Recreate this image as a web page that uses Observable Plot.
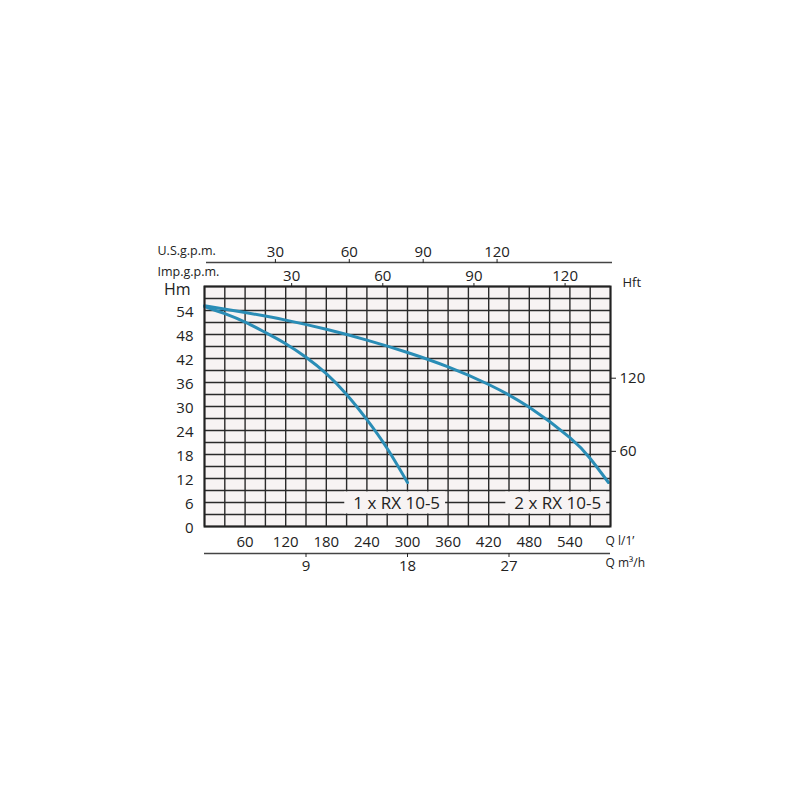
<!DOCTYPE html>
<html>
<head>
<meta charset="utf-8">
<script src="https://cdn.jsdelivr.net/npm/d3@7"></script>
<script src="https://cdn.jsdelivr.net/npm/@observablehq/plot@0.6"></script>
<style>
  html, body { margin: 0; padding: 0; background: #ffffff; }
  #chart { width: 800px; height: 800px; }
</style>
</head>
<body>
<div id="chart"></div>
<script>
// ---- data ----
const curve1Q = [0, 30, 60, 90, 120, 150, 180, 210, 240, 270, 300];
const curve1H = [55.0, 53.2, 51.1, 48.5, 45.7, 42.3, 38.2, 33.0, 26.7, 19.5, 11.0];
const curve2Q = [0, 60, 120, 180, 240, 300, 360, 420, 480, 540, 570, 597];
const curve2H = [55.2, 53.5, 51.6, 49.3, 46.6, 43.5, 39.9, 35.5, 29.8, 22.2, 17.0, 11.0];
const curveNames = ["1 x RX 10-5", "2 x RX 10-5"];
const labelQ = [284, 522];
const labelH = [6, 6];

const hmTicks = [0, 6, 12, 18, 24, 30, 36, 42, 48, 54];
const lminTicks = [60, 120, 180, 240, 300, 360, 420, 480, 540];
const m3hTicks = [9, 18, 27];
const usgpmTicks = [30, 60, 90, 120];
const impgpmTicks = [30, 60, 90, 120];
const hftTicks = [60, 120];

// unit conversions (as drawn on the chart)
const lminPerM3h = 1000 / 60;
const lminPerUsgpm = 3.64;
const lminPerImpgpm = 4.49;
const ftPerM = 3.281;

const qGrid = d3.range(0, 601, 30);
const hGrid = d3.range(0, 61, 3);

const curve1 = curve1Q.map((q, i) => ({q, h: curve1H[i]}));
const curve2 = curve2Q.map((q, i) => ({q, h: curve2H[i]}));
const labels = curveNames.map((name, i) => ({name, q: labelQ[i], h: labelH[i]}));

const FONT = "Open Sans";
const INK = "#222222";
const GRID = "#2a2a2a";
const BG = "#f7f3f3";
const LINE = "#2a8db6";

const plot = Plot.plot({
  width: 800,
  height: 800,
  marginLeft: 204,
  marginRight: 190,
  marginTop: 286,
  marginBottom: 274,
  style: {fontFamily: FONT, fontSize: "15px", color: INK, background: "#ffffff", overflow: "visible"},
  x: {domain: [0, 600]},
  y: {domain: [0, 60]},
  marks: [
    Plot.frame({fill: BG, stroke: null}),
    Plot.ruleX(qGrid, {stroke: GRID, strokeWidth: 1.4}),
    Plot.ruleY(hGrid, {stroke: GRID, strokeWidth: 1.4}),
    Plot.line(curve1, {x: "q", y: "h", stroke: LINE, strokeWidth: 3, curve: "natural"}),
    Plot.line(curve2, {x: "q", y: "h", stroke: LINE, strokeWidth: 3, curve: "natural"}),
    Plot.text(labels, {x: "q", y: "h", text: "name", fontSize: 17, fill: INK, dy: 1, className: "curve-label"}),
    Plot.frame({stroke: INK, strokeWidth: 2}),
    // left Hm axis
    Plot.axisY(hmTicks, {anchor: "left", tickSize: 0, tickPadding: 11, dy: 2, fontSize: 15, label: null}),
    // right Hft axis
    Plot.axisY(hftTicks.map(f => f / ftPerM), {anchor: "right", dy: -2, tickSize: 5, tickPadding: 4, fontSize: 15, label: null,
      tickFormat: (d, i) => hftTicks[i]}),
    // bottom l/min axis
    Plot.axisX(lminTicks, {anchor: "bottom", tickSize: 0, tickPadding: 10, fontSize: 15, label: null}),
    // m3/h axis below
    Plot.ruleY([0], {x1: 0, x2: 600, dy: 27, stroke: "#444", strokeWidth: 1.3}),
    Plot.axisX(m3hTicks.map(v => v * lminPerM3h), {anchor: "bottom", dy: 27, tickSize: 4, tickPadding: 3, fontSize: 15, label: null,
      tickFormat: (d, i) => m3hTicks[i]}),
    // Imp gpm axis on top border
    Plot.axisX(impgpmTicks.map(v => v * lminPerImpgpm), {anchor: "top", dx: -4, tickSize: 4, tickPadding: 2, fontSize: 15, label: null,
      tickFormat: (d, i) => impgpmTicks[i]}),
    // US gpm axis above
    Plot.ruleY([60], {x1: 0, x2: 600, dy: -24, dx: 2, stroke: "#444", strokeWidth: 1.3}),
    Plot.axisX(usgpmTicks.map(v => v * lminPerUsgpm), {anchor: "top", dx: -3, dy: -24, tickSize: 4, tickPadding: 2, fontSize: 15, label: null,
      tickFormat: (d, i) => usgpmTicks[i]}),
    // unit labels
    Plot.text(["Hm"], {frameAnchor: "top-left", lineAnchor: "middle", textAnchor: "end", dx: -14, dy: 3, fontSize: 16, fill: INK}),
    Plot.text(["Hft"], {frameAnchor: "top-right", lineAnchor: "middle", textAnchor: "start", dx: 12, dy: -4, fontSize: 13, fill: INK}),
    Plot.text(["U.S.g.p.m."], {frameAnchor: "top-left", lineAnchor: "middle", textAnchor: "start", dx: -47, dy: -36, fontSize: 12.5, fill: INK}),
    Plot.text(["Imp.g.p.m."], {frameAnchor: "top-left", lineAnchor: "middle", textAnchor: "start", dx: -47, dy: -15, fontSize: 12.5, fill: INK}),
    Plot.text(["Q l/1\u2019"], {frameAnchor: "bottom-right", lineAnchor: "middle", textAnchor: "start", dx: -5, dy: 15, fontSize: 12, fill: INK}),
    Plot.text(["Q m\u00b3/h"], {frameAnchor: "bottom-right", lineAnchor: "middle", textAnchor: "start", dx: -5, dy: 37, fontSize: 12, fill: INK})
  ]
});

document.getElementById("chart").appendChild(plot);

// background boxes behind the curve labels (hide grid lines under them)
const labelGroup = plot.querySelector("g.curve-label");
if (labelGroup) {
  const ns = "http://www.w3.org/2000/svg";
  const boxes = document.createElementNS(ns, "g");
  labelGroup.querySelectorAll("text").forEach(t => {
    const b = t.getBBox();
    const r = document.createElementNS(ns, "rect");
    const cy = b.y + b.height / 2;
    r.setAttribute("x", b.x - 9);
    r.setAttribute("width", b.width + 14);
    r.setAttribute("y", cy - 11);
    r.setAttribute("height", 22);
    r.setAttribute("fill", BG);
    const tr = t.getAttribute("transform");
    if (tr) r.setAttribute("transform", tr);
    boxes.appendChild(r);
  });
  const gtr = labelGroup.getAttribute("transform");
  if (gtr) boxes.setAttribute("transform", gtr);
  labelGroup.parentNode.insertBefore(boxes, labelGroup);
}
</script>
</body>
</html>
